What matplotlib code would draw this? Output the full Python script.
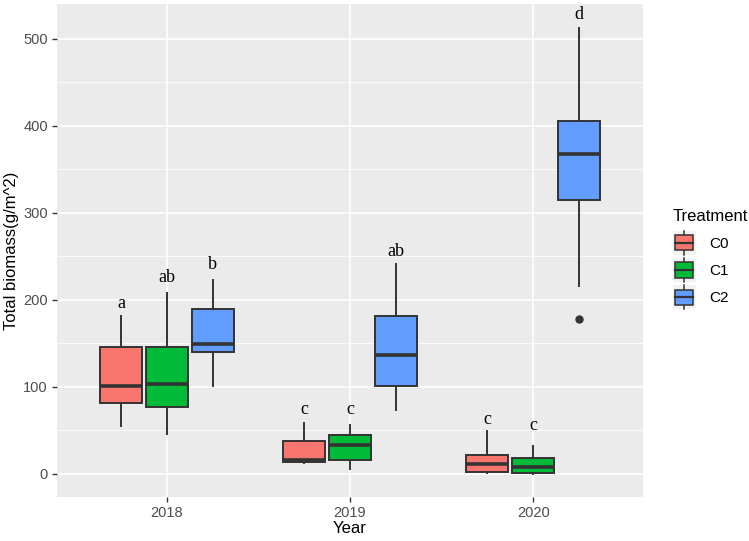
import matplotlib
matplotlib.use("Agg")
import matplotlib.pyplot as plt
from matplotlib.legend_handler import HandlerBase
from matplotlib.patches import Rectangle
from matplotlib.lines import Line2D

# --- DATA ---
years = ["2018", "2019", "2020"]
treatments = ["C0", "C1", "C2"]
colors = ["#F8766D", "#00BA38", "#619CFF"]

# box stats per treatment, one value per year
whislo = {"C0": [55, 12, 1], "C1": [45, 5, 0], "C2": [101, 73, 216]}
q1 = {"C0": [81, 13, 1.5], "C1": [77, 15, 0.5], "C2": [140, 101, 315]}
med = {"C0": [101, 15, 11], "C1": [103, 33, 8], "C2": [149, 136, 368]}
q3 = {"C0": [146, 37, 21], "C1": [146, 44, 18], "C2": [189, 181, 406]}
whishi = {"C0": [181, 58, 49], "C1": [208, 56, 32], "C2": [223, 241, 512]}
fliers = {"C0": [[], [], []], "C1": [[], [], []], "C2": [[], [], [178]]}

# significance letters and their heights
letters = {"C0": ["a", "c", "c"], "C1": ["ab", "c", "c"], "C2": ["b", "ab", "d"]}
letter_y = {"C0": [196, 74, 62], "C1": [226, 74, 55], "C2": [240, 255, 528]}

plt.rcParams["font.family"] = ["Liberation Sans", "DejaVu Sans"]

fig = plt.figure(figsize=(7.49, 5.41), dpi=100)
ax = fig.add_axes([57 / 749, 44 / 541, 586 / 749, 493 / 541])
ax.set_facecolor("#EBEBEB")

offsets = [-0.25, 0.0, 0.25]
for j, t in enumerate(treatments):
    stats = []
    for i in range(len(years)):
        stats.append(dict(whislo=whislo[t][i], q1=q1[t][i], med=med[t][i],
                          q3=q3[t][i], whishi=whishi[t][i], fliers=fliers[t][i]))
    pos = [i + 1 + offsets[j] for i in range(len(years))]
    ax.bxp(stats, positions=pos, widths=0.23, patch_artist=True,
           showcaps=False, manage_ticks=False, zorder=3,
           boxprops=dict(facecolor=colors[j], edgecolor="#333333", linewidth=1.4),
           medianprops=dict(color="#333333", linewidth=2.6),
           whiskerprops=dict(color="#333333", linewidth=1.4),
           flierprops=dict(marker="o", markerfacecolor="#333333",
                           markeredgecolor="#333333", markersize=5))
    for i in range(len(years)):
        ax.text(pos[i], letter_y[t][i], letters[t][i], ha="center", va="center",
                fontsize=13, family="Liberation Serif", color="black", zorder=4)

ax.set_xlim(0.4, 3.6)
ax.set_ylim(-27, 540)
ax.set_xticks([1, 2, 3])
ax.set_xticklabels(years)
ax.set_yticks([0, 100, 200, 300, 400, 500])
ax.set_yticks([50, 150, 250, 350, 450], minor=True)
ax.grid(True, which="major", color="white", linewidth=1.2, zorder=0)
ax.grid(True, which="minor", axis="y", color="white", linewidth=0.6, zorder=0)
ax.set_axisbelow(True)
for s in ax.spines.values():
    s.set_visible(False)
ax.tick_params(axis="both", which="major", length=3.5, width=1, color="#333333",
               labelcolor="#4D4D4D", labelsize=10.5, pad=3)
ax.tick_params(axis="y", which="minor", length=0)
ax.set_xlabel("Year", fontsize=12, labelpad=1)
ax.set_ylabel("Total biomass(g/m^2)", fontsize=12, labelpad=3)


class BoxHandler(HandlerBase):
    def create_artists(self, legend, orig_handle, xdescent, ydescent,
                       width, height, fontsize, trans):
        cx = width / 2 - xdescent
        bw = width * 0.8
        bg = Rectangle((-xdescent, -ydescent - 3), width, height + 6,
                       facecolor="#F2F2F2", edgecolor="none", transform=trans)
        wl = Line2D([cx, cx], [-ydescent - 3, height - ydescent + 3],
                    color="#333333", lw=1.1, transform=trans)
        box = Rectangle((cx - bw / 2, -ydescent), bw, height,
                        facecolor=orig_handle.get_facecolor(), edgecolor="#333333",
                        lw=1.1, transform=trans)
        ml = Line2D([cx - bw / 2, cx + bw / 2], [height / 2 - ydescent] * 2,
                    color="#333333", lw=1.6, transform=trans)
        return [bg, wl, box, ml]


handles = [Rectangle((0, 0), 1, 1, facecolor=c) for c in colors]
leg = fig.legend(handles, treatments, title="Treatment", loc="upper left",
                 bbox_to_anchor=(659 / 749, 1 - 195 / 541), frameon=False,
                 handler_map={Rectangle: BoxHandler()}, handlelength=1.5,
                 handleheight=1.15, labelspacing=0.75, fontsize=11,
                 title_fontsize=12, handletextpad=0.9)
leg._legend_box.align = "left"

fig.savefig("out.png", dpi=100)
